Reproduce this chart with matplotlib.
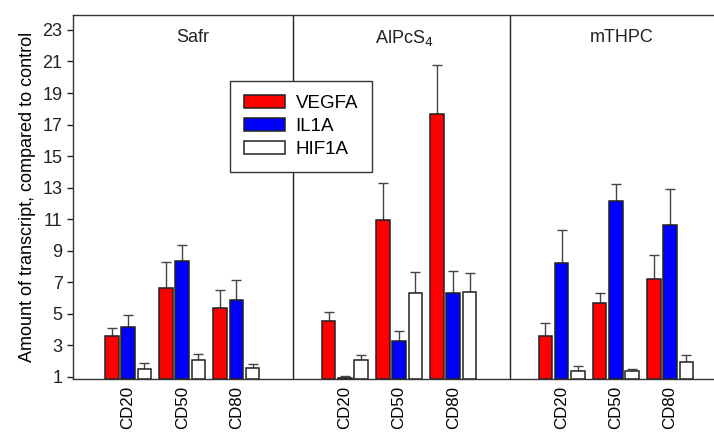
import matplotlib
matplotlib.use("Agg")
import matplotlib.pyplot as plt
import numpy as np

plt.rcParams['font.family'] = ['Liberation Sans', 'DejaVu Sans']

drugs = ["Safr", "AlPcS$_4$", "mTHPC"]
doses = ["CD20", "CD50", "CD80"]
genes = ["VEGFA", "IL1A", "HIF1A"]

vegfa = [3.58, 6.61, 5.34, 4.53, 10.94, 17.65, 3.56, 5.70, 7.18]
vegfa_err = [0.53, 1.65, 1.18, 0.59, 2.35, 3.15, 0.83, 0.59, 1.54]
il1a = [4.13, 8.36, 5.89, 0.90, 3.28, 6.29, 8.23, 12.13, 10.61]
il1a_err = [0.77, 1.02, 1.23, 0.14, 0.62, 1.42, 2.10, 1.08, 2.32]
hif1a = [1.47, 2.08, 1.55, 2.04, 6.29, 6.39, 1.36, 1.38, 1.93]
hif1a_err = [0.38, 0.34, 0.28, 0.32, 1.37, 1.17, 0.32, 0.11, 0.45]

colors = ["#ff0000", "#0000ff", "#ffffff"]
edge = "#222222"
ybase = 0.835
fs = 13

fig = plt.figure(figsize=(7.14, 4.34), dpi=100)
ax = fig.add_axes([73/714, 1-379.3/434, 1-73/714, (379.3-15)/434])

xs = []
for s in range(len(drugs)):
    for d in range(len(doses)):
        xs.append(s*4 + d)
xs = np.array(xs, dtype=float)

w = 0.25
off = 0.30
series = [(vegfa, vegfa_err), (il1a, il1a_err), (hif1a, hif1a_err)]
handles = []
for i, (vals, errs) in enumerate(series):
    vals = np.array(vals)
    errs = np.array(errs)
    pos = xs + (i-1)*off
    b = ax.bar(pos, vals-ybase, bottom=ybase, width=w, color=colors[i],
               edgecolor=edge, linewidth=1.1, label=genes[i], zorder=3)
    handles.append(b)
    ax.errorbar(pos, vals, yerr=[np.zeros_like(errs), errs], fmt='none',
                ecolor="#444444", elinewidth=1.0, capsize=3.5, capthick=1.0, zorder=2)

for xd in [3.04, 7.04]:
    ax.axvline(xd, color="#222222", linewidth=1.0, zorder=1)

title_x = [1.2, 5.1, 9.1]
for s, name in enumerate(drugs):
    ax.text(title_x[s], 22.5, name, ha='center', va='center', fontsize=fs, color="#222222")

ax.set_xlim(-1.015, 10.81)
ax.set_ylim(ybase, 23.95)
ax.set_yticks(np.arange(1, 24, 2))
ax.set_xticks(xs)
ax.set_xticklabels(doses*3, rotation=90, fontsize=12.2, va='top', ha='center')
ax.tick_params(axis='x', length=0, pad=5)
ax.tick_params(axis='y', direction='out', length=4, width=1, labelsize=fs, colors="#222222")
for sp in ['left', 'bottom', 'top']:
    ax.spines[sp].set_color("#333333")
    ax.spines[sp].set_linewidth(1.0)
ax.spines['right'].set_visible(False)
ax.set_ylabel("Amount of transcript, compared to control", fontsize=fs, labelpad=5)

leg = ax.legend(handles=handles, labels=genes, loc='upper left',
                bbox_to_anchor=(230/714, 1-81/434), bbox_transform=fig.transFigure,
                borderaxespad=0, fancybox=False, framealpha=1, edgecolor="#333333",
                prop={'size': 13.5}, handlelength=2.2, handleheight=0.7, handletextpad=0.55,
                labelspacing=0.3, borderpad=0.75)
leg.get_frame().set_linewidth(1.0)
leg.set_zorder(10)

fig.savefig("out.png", dpi=100)
